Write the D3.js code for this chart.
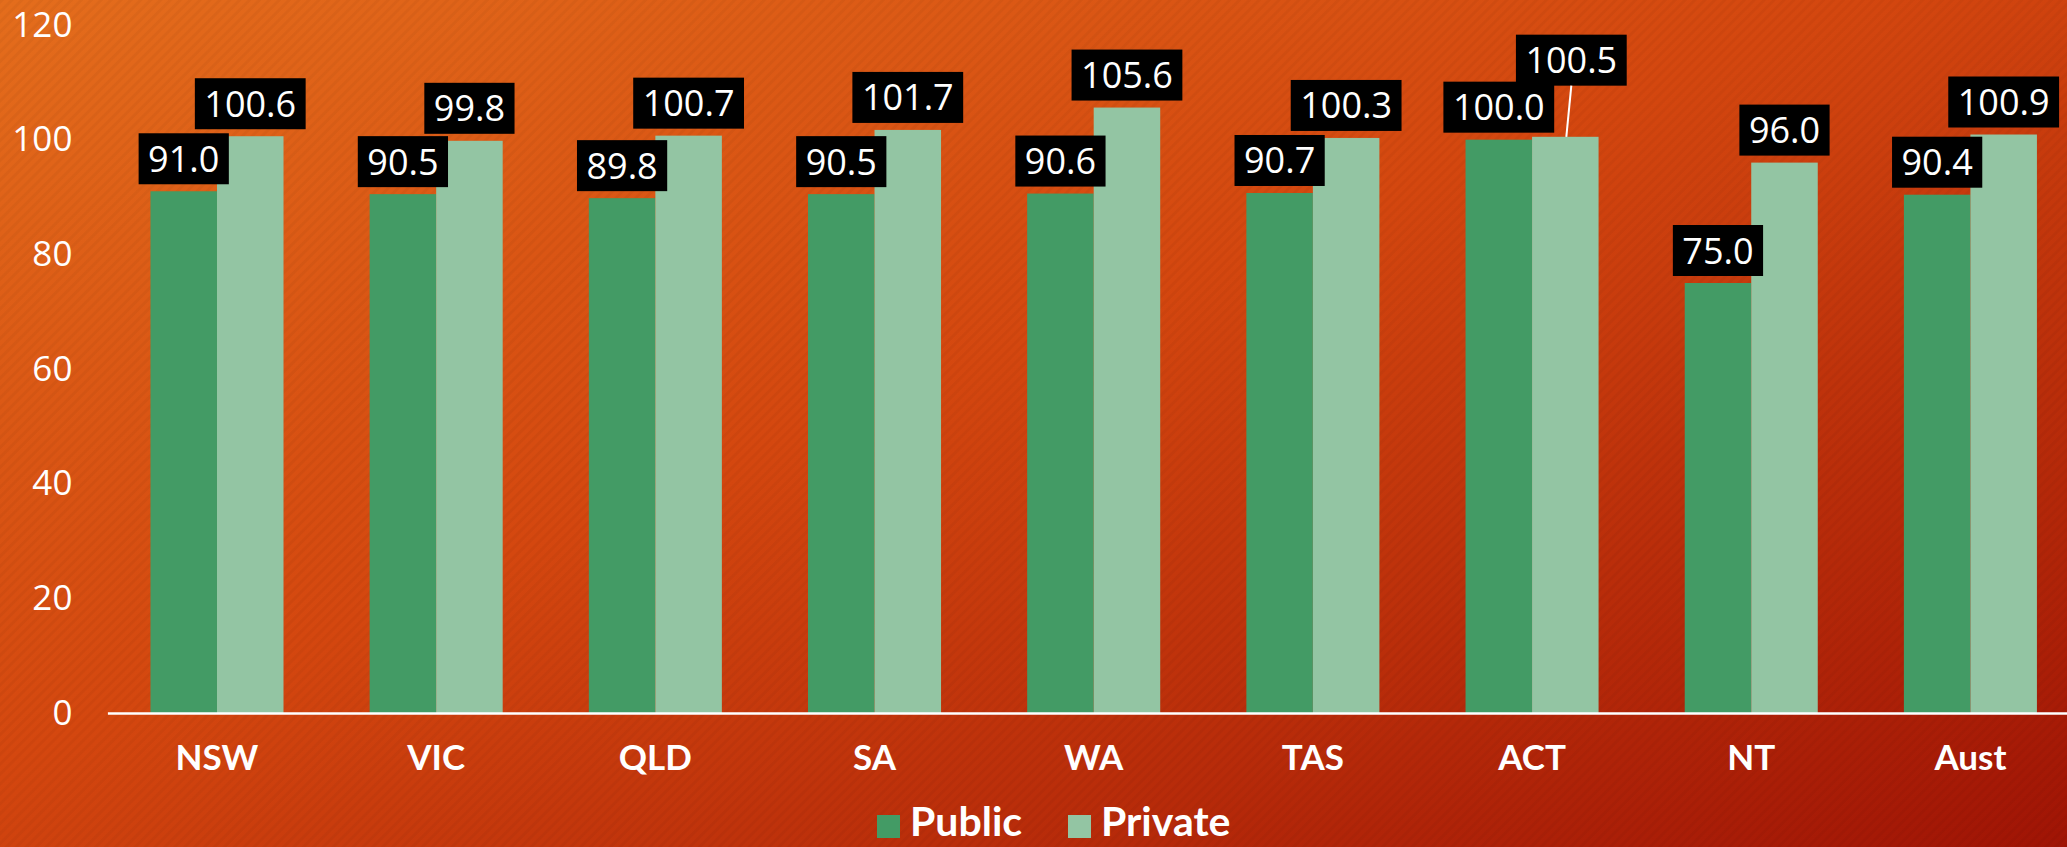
<!DOCTYPE html>
<html>
<head>
<meta charset="utf-8">
<script src="https://cdn.jsdelivr.net/npm/d3@7/dist/d3.min.js"></script>
<style>
html,body{margin:0;padding:0;overflow:hidden;background:#c83a0e;}
svg{display:block;}
</style>
</head>
<body>
<svg id="chart" width="2067" height="847"></svg>
<script>
const categories = ["NSW","VIC","QLD","SA","WA","TAS","ACT","NT","Aust"];
const publicVals = [91.0, 90.5, 89.8, 90.5, 90.6, 90.7, 100.0, 75.0, 90.4];
const privateVals = [100.6, 99.8, 100.7, 101.7, 105.6, 100.3, 100.5, 96.0, 100.9];
const seriesNames = ["Public","Private"];
const yTicks = [0,20,40,60,80,100,120];

const W = 2067, H = 847;
const svg = d3.select("#chart");
const defs = svg.append("defs");
const grad = defs.append("linearGradient").attr("id","bg")
  .attr("x1","0").attr("y1","0").attr("x2","1").attr("y2","1");
grad.append("stop").attr("offset","0%").attr("stop-color","#e46d1c");
grad.append("stop").attr("offset","45%").attr("stop-color","#d4470f");
grad.append("stop").attr("offset","100%").attr("stop-color","#a01405");
const pat = defs.append("pattern").attr("id","stripes").attr("patternUnits","userSpaceOnUse")
  .attr("width",7).attr("height",7).attr("patternTransform","rotate(45)");
pat.append("rect").attr("width",3).attr("height",7).attr("fill","rgba(0,0,0,0.035)");
svg.append("rect").attr("width",W).attr("height",H).attr("fill","url(#bg)");
svg.append("rect").attr("width",W).attr("height",H).attr("fill","url(#stripes)");

const plot = {left:107.4, right:2080, top:25, bottom:713};
const x0 = d3.scaleBand().domain(categories).range([plot.left, plot.right]).paddingInner(0.393).paddingOuter(0.1965);
const x1 = d3.scaleBand().domain(seriesNames).range([0, x0.bandwidth()]).padding(0);
const y = d3.scaleLinear().domain([0,120]).range([plot.bottom, plot.top]);
const colors = {Public:"#439b65", Private:"#93c5a3"};

// y axis labels
const yAxis = svg.append("g").attr("transform",`translate(${plot.left},0)`)
  .call(d3.axisLeft(y).tickValues(yTicks).tickSize(0).tickPadding(35));
yAxis.select(".domain").remove();
yAxis.selectAll("text").attr("fill","#fff").style("font-family","'Open Sans',sans-serif")
  .style("font-size","35px");

const data = categories.map((c,i)=>({cat:c, vals:[{s:"Public",v:publicVals[i]},{s:"Private",v:privateVals[i]}]}));

const groups = svg.append("g").selectAll("g").data(data).join("g")
  .attr("transform",d=>`translate(${x0(d.cat)},0)`);
groups.selectAll("rect").data(d=>d.vals).join("rect")
  .attr("x",d=>x1(d.s)).attr("width",x1.bandwidth())
  .attr("y",d=>y(d.v)).attr("height",d=>y(0)-y(d.v))
  .attr("fill",d=>colors[d.s]);

// x axis
const xAxis = svg.append("g").attr("transform",`translate(0,${plot.bottom})`)
  .call(d3.axisBottom(x0).tickSize(0).tickPadding(32));
xAxis.select(".domain").attr("stroke","#fff").attr("stroke-width",2.5);
xAxis.selectAll("text").attr("fill","#fff").style("font-family","Lato,sans-serif")
  .style("font-weight","bold").style("font-size","35px");

// data labels
const labelG = svg.append("g");
const boxH = 51, gap = 7, pad = 9.5;
data.forEach(d=>{
  const boxes = [];
  d.vals.forEach(v=>{
    const cx = x0(d.cat) + x1(v.s) + x1.bandwidth()/2;
    const t = labelG.append("text").text(v.v.toFixed(1))
      .attr("fill","#fff").style("font-family","'Open Sans',sans-serif").style("font-size","36px")
      .attr("text-anchor","middle");
    const tw = t.node().getComputedTextLength();
    let bw = tw + 2*pad;
    let by = y(v.v) - gap - boxH;
    let bx = cx - bw/2;
    let leader = false;
    const prev = boxes[0];
    if (prev && bx < prev.x + prev.w && by + boxH > prev.y && by < prev.y + boxH) {
      by = prev.y - boxH + 4;
      bx += 6;
      leader = true;
    }
    boxes.push({x:bx,y:by,w:bw});
    labelG.insert("rect","text").attr("x",bx).attr("y",by).attr("width",bw).attr("height",boxH).attr("fill","#000");
    t.attr("x",bx+bw/2).attr("y",by+boxH/2+13);
    t.raise();
    if (leader) {
      labelG.append("line").attr("x1",bx+bw/2).attr("y1",by+boxH)
        .attr("x2",cx+1).attr("y2",y(v.v)).attr("stroke","#fff").attr("stroke-width",2);
    }
  });
});

// legend
const lg = svg.append("g");
const legendItems = [{s:"Public",x:877},{s:"Private",x:1068}];
legendItems.forEach(it=>{
  lg.append("rect").attr("x",it.x).attr("y",815).attr("width",23).attr("height",23).attr("fill",colors[it.s]);
  lg.append("text").attr("x",it.x+33).attr("y",836).text(it.s)
    .attr("fill","#fff").style("font-family","Lato,sans-serif").style("font-weight","bold").style("font-size","41px");
});
</script>
</body>
</html>
